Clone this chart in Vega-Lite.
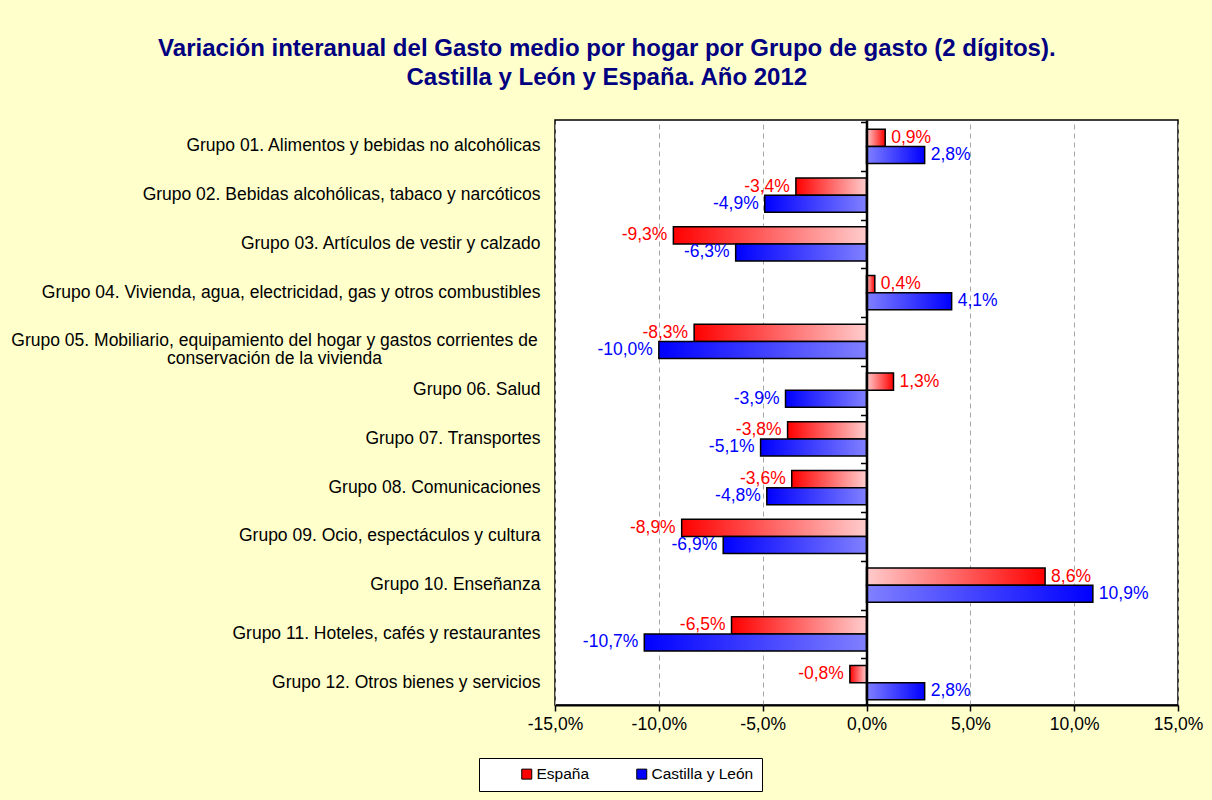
{
  "$schema": "https://vega.github.io/schema/vega-lite/v6.json",
  "width": 623,
  "height": 585,
  "autosize": {"type": "none"},
  "padding": {"left": 555, "top": 120, "right": 34, "bottom": 95},
  "background": "#FFFFCC",
  "title": {
    "text": ["Variación interanual del Gasto medio por hogar por Grupo de gasto (2 dígitos).", "Castilla y León y España. Año 2012"],
    "font": "Liberation Sans",
    "fontSize": 24,
    "fontWeight": "bold",
    "color": "#000080",
    "anchor": "middle",
    "frame": "bounds",
    "baseline": "bottom",
    "lineHeight": 29,
    "offset": 6
  },
  "data": {
    "values": [
      {"grupo": "Grupo 01. Alimentos y bebidas no alcohólicas", "serie": "España", "valor": 0.009},
      {"grupo": "Grupo 01. Alimentos y bebidas no alcohólicas", "serie": "Castilla y León", "valor": 0.028},
      {"grupo": "Grupo 02. Bebidas alcohólicas, tabaco y narcóticos", "serie": "España", "valor": -0.034},
      {"grupo": "Grupo 02. Bebidas alcohólicas, tabaco y narcóticos", "serie": "Castilla y León", "valor": -0.049},
      {"grupo": "Grupo 03. Artículos de vestir y calzado", "serie": "España", "valor": -0.093},
      {"grupo": "Grupo 03. Artículos de vestir y calzado", "serie": "Castilla y León", "valor": -0.063},
      {"grupo": "Grupo 04. Vivienda, agua, electricidad, gas y otros combustibles", "serie": "España", "valor": 0.004},
      {"grupo": "Grupo 04. Vivienda, agua, electricidad, gas y otros combustibles", "serie": "Castilla y León", "valor": 0.041},
      {"grupo": "Grupo 05. Mobiliario, equipamiento del hogar y gastos corrientes de conservación de la vivienda", "serie": "España", "valor": -0.083},
      {"grupo": "Grupo 05. Mobiliario, equipamiento del hogar y gastos corrientes de conservación de la vivienda", "serie": "Castilla y León", "valor": -0.1},
      {"grupo": "Grupo 06. Salud", "serie": "España", "valor": 0.013},
      {"grupo": "Grupo 06. Salud", "serie": "Castilla y León", "valor": -0.039},
      {"grupo": "Grupo 07. Transportes", "serie": "España", "valor": -0.038},
      {"grupo": "Grupo 07. Transportes", "serie": "Castilla y León", "valor": -0.051},
      {"grupo": "Grupo 08. Comunicaciones", "serie": "España", "valor": -0.036},
      {"grupo": "Grupo 08. Comunicaciones", "serie": "Castilla y León", "valor": -0.048},
      {"grupo": "Grupo 09. Ocio, espectáculos y cultura", "serie": "España", "valor": -0.089},
      {"grupo": "Grupo 09. Ocio, espectáculos y cultura", "serie": "Castilla y León", "valor": -0.069},
      {"grupo": "Grupo 10. Enseñanza", "serie": "España", "valor": 0.086},
      {"grupo": "Grupo 10. Enseñanza", "serie": "Castilla y León", "valor": 0.109},
      {"grupo": "Grupo 11. Hoteles, cafés y restaurantes", "serie": "España", "valor": -0.065},
      {"grupo": "Grupo 11. Hoteles, cafés y restaurantes", "serie": "Castilla y León", "valor": -0.107},
      {"grupo": "Grupo 12. Otros bienes y servicios", "serie": "España", "valor": -0.008},
      {"grupo": "Grupo 12. Otros bienes y servicios", "serie": "Castilla y León", "valor": 0.028}
    ]
  },
  "encoding": {
    "x": {
      "field": "valor",
      "type": "quantitative",
      "scale": {"domain": [-0.15, 0.15], "nice": false},
      "axis": {
        "title": null,
        "values": [-0.15, -0.1, -0.05, 0, 0.05, 0.1, 0.15],
        "format": ".1%",
        "labelFont": "Liberation Sans",
        "labelFontSize": 17.5,
        "labelColor": "#000000",
        "labelPadding": 4,
        "labelFlush": false,
        "labelOverlap": false,
        "domainColor": "#000000",
        "domainWidth": 2,
        "tickColor": "#000000",
        "tickSize": 6,
        "tickWidth": 1.5,
        "grid": true,
        "gridColor": "#A6A6A6",
        "gridDash": [5, 4],
        "gridWidth": 1
      }
    },
    "y": {
      "field": "grupo",
      "type": "nominal",
      "sort": null,
      "scale": {
        "domain": [
          "Grupo 01. Alimentos y bebidas no alcohólicas",
          "Grupo 02. Bebidas alcohólicas, tabaco y narcóticos",
          "Grupo 03. Artículos de vestir y calzado",
          "Grupo 04. Vivienda, agua, electricidad, gas y otros combustibles",
          "Grupo 05. Mobiliario, equipamiento del hogar y gastos corrientes de conservación de la vivienda",
          "Grupo 06. Salud",
          "Grupo 07. Transportes",
          "Grupo 08. Comunicaciones",
          "Grupo 09. Ocio, espectáculos y cultura",
          "Grupo 10. Enseñanza",
          "Grupo 11. Hoteles, cafés y restaurantes",
          "Grupo 12. Otros bienes y servicios"
        ],
        "paddingInner": 0.3,
        "paddingOuter": 0.15,
        "align": 0.64
      },
      "axis": {
        "title": null,
        "domain": false,
        "ticks": false,
        "grid": false,
        "labelFont": "Liberation Sans",
        "labelFontSize": 17.5,
        "labelColor": "#000000",
        "labelLimit": 700,
        "labelLineHeight": 18,
        "labelExpr": "indexof(datum.value, 'Grupo 05') == 0 ? ['Grupo 05. Mobiliario, equipamiento del hogar y gastos corrientes de', 'conservación de la vivienda'] : datum.value",
        "labelAlign": {"condition": {"test": "indexof(datum.value, 'Grupo 05') == 0", "value": "center"}, "value": "right"},
        "labelPadding": {"condition": {"test": "indexof(datum.value, 'Grupo 05') == 0", "value": 281}, "value": 15}
      }
    },
    "yOffset": {
      "field": "serie",
      "type": "nominal",
      "scale": {"domain": ["España", "Castilla y León"], "paddingInner": 0, "paddingOuter": 0}
    }
  },
  "layer": [
    {
      "layer": [
        {
          "transform": [{"filter": "datum.serie == 'España' && datum.valor >= 0"}],
          "mark": {"type": "bar", "stroke": "#000000", "strokeWidth": 1.5,
            "fill": {"gradient": "linear", "x1": 0, "y1": 0, "x2": 1, "y2": 0,
              "stops": [{"offset": 0, "color": "#FFCCCC"}, {"offset": 1, "color": "#FF0000"}]}}
        },
        {
          "transform": [{"filter": "datum.serie == 'España' && datum.valor < 0"}],
          "mark": {"type": "bar", "stroke": "#000000", "strokeWidth": 1.5,
            "fill": {"gradient": "linear", "x1": 0, "y1": 0, "x2": 1, "y2": 0,
              "stops": [{"offset": 0, "color": "#FF0000"}, {"offset": 1, "color": "#FFCCCC"}]}}
        },
        {
          "transform": [{"filter": "datum.serie == 'Castilla y León' && datum.valor >= 0"}],
          "mark": {"type": "bar", "stroke": "#000000", "strokeWidth": 1.5,
            "fill": {"gradient": "linear", "x1": 0, "y1": 0, "x2": 1, "y2": 0,
              "stops": [{"offset": 0, "color": "#8080FF"}, {"offset": 1, "color": "#0000FF"}]}}
        },
        {
          "transform": [{"filter": "datum.serie == 'Castilla y León' && datum.valor < 0"}],
          "mark": {"type": "bar", "stroke": "#000000", "strokeWidth": 1.5,
            "fill": {"gradient": "linear", "x1": 0, "y1": 0, "x2": 1, "y2": 0,
              "stops": [{"offset": 0, "color": "#0000FF"}, {"offset": 1, "color": "#8080FF"}]}}
        },
        {
          "transform": [{"filter": "datum.valor >= 0"}],
          "mark": {"type": "text", "align": "left", "dx": 6, "baseline": "middle", "font": "Liberation Sans", "fontSize": 17.5},
          "encoding": {
            "text": {"field": "valor", "type": "quantitative", "format": ".1%"},
            "color": {
              "field": "serie",
              "type": "nominal",
              "scale": {"domain": ["España", "Castilla y León"], "range": ["#FF0000", "#0000FF"]},
              "legend": {
                "title": null,
                "orient": "none",
                "legendX": -76,
                "legendY": 638,
                "direction": "horizontal",
                "symbolType": "square",
                "symbolSize": 100,
                "symbolStrokeColor": "#000000",
                "symbolStrokeWidth": 1,
                "symbolOffset": 32,
                "labelFont": "Liberation Sans",
                "labelFontSize": 15.5,
                "labelColor": "#000000",
                "labelOffset": 2,
                "labelExpr": "datum.label == 'Castilla y León' ? 'Castilla y León                ' : datum.label",
                "columnPadding": 12,
                "padding": 8,
                "fillColor": "#FFFFFF",
                "strokeColor": "#000000"
              }
            }
          }
        },
        {
          "transform": [{"filter": "datum.valor < 0"}],
          "mark": {"type": "text", "align": "right", "dx": -6, "baseline": "middle", "font": "Liberation Sans", "fontSize": 17.5},
          "encoding": {
            "text": {"field": "valor", "type": "quantitative", "format": ".1%"},
            "color": {"field": "serie", "type": "nominal"}
          }
        }
      ]
    },
    {
      "mark": {"type": "point", "opacity": 0},
      "encoding": {
        "y": {
          "field": "grupo",
          "type": "nominal",
          "sort": null,
          "axis": {
            "title": null,
            "labels": false,
            "grid": false,
            "domain": true,
            "domainColor": "#000000",
            "domainWidth": 2.5,
            "ticks": true,
            "tickOffset": -24.375,
            "tickSize": -6,
            "tickColor": "#000000",
            "tickWidth": 1.5,
            "offset": -311.5,
            "zindex": 2
          }
        }
      }
    }
  ],
  "resolve": {"axis": {"y": "independent"}},
  "config": {
    "font": "Liberation Sans",
    "view": {"stroke": "#000000", "strokeWidth": 1.5, "fill": "#FFFFFF"},
    "locale": {
      "number": {"decimal": ",", "thousands": ".", "grouping": [3], "currency": ["", " €"], "minus": "-"}
    }
  }
}
